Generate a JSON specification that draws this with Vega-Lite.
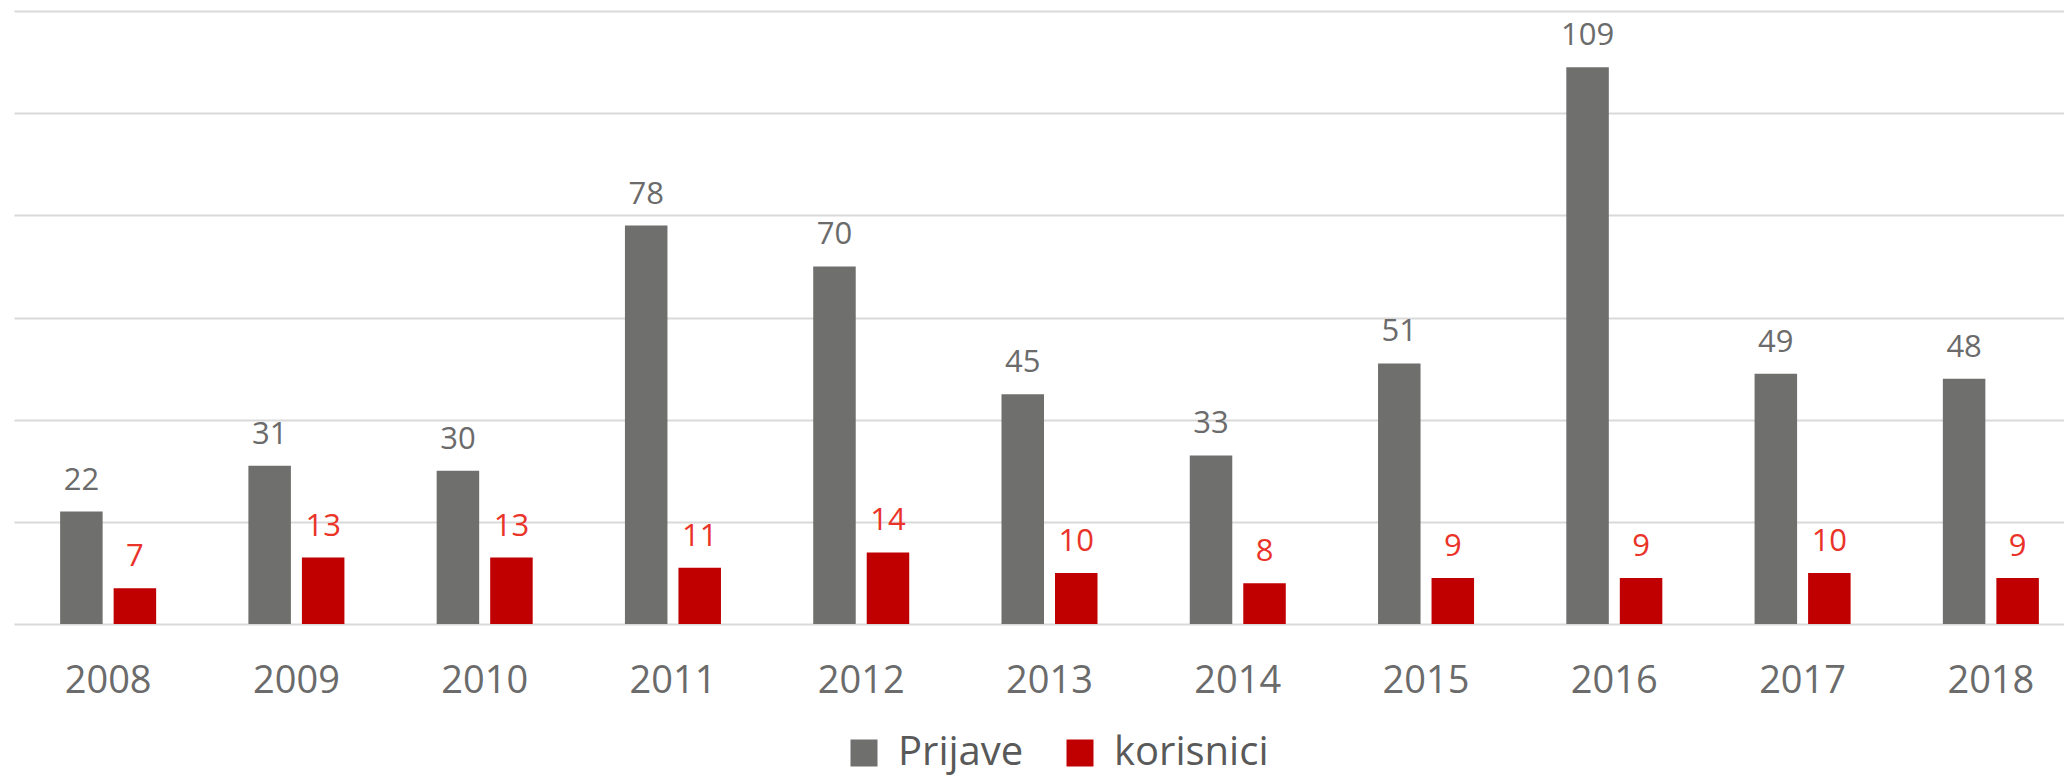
{
  "$schema": "https://vega.github.io/schema/vega-lite/v6.json",
  "autosize": {"type": "none"},
  "width": 2050,
  "height": 613,
  "padding": {"left": 14, "top": 11, "right": 0, "bottom": 155},
  "background": "white",
  "config": {
    "view": {"stroke": null},
    "font": "Open Sans"
  },
  "data": {
    "values": [
      {"year": "2008", "series": "Prijave", "value": 22},
      {"year": "2008", "series": "korisnici", "value": 7},
      {"year": "2009", "series": "Prijave", "value": 31},
      {"year": "2009", "series": "korisnici", "value": 13},
      {"year": "2010", "series": "Prijave", "value": 30},
      {"year": "2010", "series": "korisnici", "value": 13},
      {"year": "2011", "series": "Prijave", "value": 78},
      {"year": "2011", "series": "korisnici", "value": 11},
      {"year": "2012", "series": "Prijave", "value": 70},
      {"year": "2012", "series": "korisnici", "value": 14},
      {"year": "2013", "series": "Prijave", "value": 45},
      {"year": "2013", "series": "korisnici", "value": 10},
      {"year": "2014", "series": "Prijave", "value": 33},
      {"year": "2014", "series": "korisnici", "value": 8},
      {"year": "2015", "series": "Prijave", "value": 51},
      {"year": "2015", "series": "korisnici", "value": 9},
      {"year": "2016", "series": "Prijave", "value": 109},
      {"year": "2016", "series": "korisnici", "value": 9},
      {"year": "2017", "series": "Prijave", "value": 49},
      {"year": "2017", "series": "korisnici", "value": 10},
      {"year": "2018", "series": "Prijave", "value": 48},
      {"year": "2018", "series": "korisnici", "value": 9}
    ]
  },
  "encoding": {
    "x": {
      "field": "year",
      "type": "nominal",
      "scale": {"range": [0, 2071], "paddingInner": 0.49, "paddingOuter": 0.245},
      "axis": {
        "title": null,
        "domain": false,
        "ticks": false,
        "labelAngle": 0,
        "labelPadding": 38,
        "labelFontSize": 38,
        "labelFont": "Open Sans",
        "labelColor": "#6b6b6b"
      }
    },
    "xOffset": {
      "field": "series",
      "type": "nominal",
      "sort": ["Prijave", "korisnici"],
      "scale": {"paddingInner": 0.2056, "paddingOuter": 0}
    },
    "y": {
      "field": "value",
      "type": "quantitative",
      "scale": {"domain": [0, 120], "nice": false},
      "axis": {
        "title": null,
        "values": [0, 20, 40, 60, 80, 100, 120],
        "labels": false,
        "ticks": false,
        "domain": false,
        "grid": true,
        "gridColor": "#d9d9d9",
        "gridWidth": 2
      }
    }
  },
  "layer": [
    {
      "mark": {"type": "bar"},
      "encoding": {
        "color": {
          "field": "series",
          "type": "nominal",
          "sort": ["Prijave", "korisnici"],
          "scale": {"domain": ["Prijave", "korisnici"], "range": ["#6f6f6e", "#c00000"]},
          "legend": {
            "title": null,
            "orient": "none",
            "legendX": 830,
            "legendY": 722,
            "direction": "horizontal",
            "symbolType": "square",
            "symbolSize": 729,
            "symbolStrokeWidth": 0,
            "symbolOpacity": 1,
            "labelFontSize": 40,
            "labelFont": "Open Sans",
            "labelColor": "#595959",
            "labelOffset": 14,
            "labelLimit": 600,
            "columnPadding": 36
          }
        }
      }
    },
    {
      "mark": {"type": "text", "baseline": "alphabetic", "dy": -22, "fontSize": 31, "font": "Open Sans"},
      "encoding": {
        "text": {"field": "value", "type": "quantitative"},
        "color": {
          "condition": {"test": "datum.series === 'Prijave'", "value": "#6b6b6b"},
          "value": "#ea3329"
        }
      }
    }
  ]
}
